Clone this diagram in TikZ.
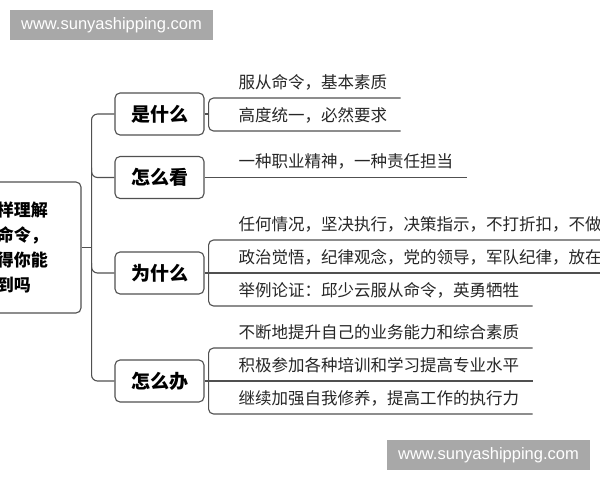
\documentclass[tikz,border=0pt]{standalone}
\usepackage{fontspec}
\usetikzlibrary{calc, positioning}
\newfontfamily\cjk{Noto Sans CJK SC}
\newfontfamily\markfont{Liberation Sans}
\definecolor{linegray}{RGB}{80,80,80}
\definecolor{markgray}{RGB}{168,168,168}
\def\leafx{225}
\def\branchx{159.5}

\begin{document}
\begin{tikzpicture}[x=1pt, y=-1pt, line width=1.1pt]
    \tikzstyle{link}=[draw=linegray, line width=1.1pt]
    \tikzstyle{mainbox}=[draw=linegray, fill=white, rounded corners=5pt, inner sep=0pt]
    \tikzstyle{topic}=[mainbox, minimum width=151pt, minimum height=131pt, align=center, font=\cjk\bfseries\fontsize{17}{25}\selectfont];
    \tikzstyle{branchbox}=[mainbox, minimum width=89pt, minimum height=42pt, font=\cjk\bfseries\fontsize{19}{22}\selectfont];
    \tikzstyle{leaftext}=[anchor=south west, inner xsep=13pt, inner ysep=6.2pt, text height=14pt, text depth=3pt, text=black!85, font=\cjk\fontsize{16.5}{20}\selectfont];
    \tikzstyle{watermark}=[fill=markgray, text=white, minimum width=203pt, minimum height=30pt, inner sep=0pt, font=\markfont\fontsize{16.5}{18}\selectfont]

    \clip (0,0) rectangle (600,480);
    \fill[white] (0,0) rectangle (600,480);

    % Draw the main topic, cut by the left edge
    \node[topic] (topic) at (5.5,247.5) {你怎样理解\\服从命令，\\你觉得你能\\做到吗};

    % Draw the branch boxes
    \foreach \name / \y / \txt in {B-1/114/是什么, B-2/177.5/怎么看, B-3/273/为什么, B-4/381/怎么办}
        \node[branchbox] (\name) at (\branchx,\y) {\txt};

    % Draw the leaves, each one sits on its own underline
    \foreach \name / \y / \txt in {L-1/98/服从命令，基本素质, L-2/131/高度统一，必然要求,
                                   W-1/177.5/一种职业精神，一种责任担当,
                                   R-1/240/任何情况，坚决执行，决策指示，不打折扣，不做,
                                   R-2/273/政治觉悟，纪律观念，党的领导，军队纪律，放在,
                                   R-3/306/举例论证：邱少云服从命令，英勇牺牲,
                                   D-1/348/不断地提升自己的业务能力和综合素质,
                                   D-2/381/积极参加各种培训和学习提高专业水平,
                                   D-3/414/继续加强自我修养，提高工作的执行力}
        \node[leaftext] (\name) at (\leafx,\y) {\txt};

    % Trunk from the topic to the branches
    \coordinate (T) at ($(topic.east)+(10,0)$);
    \draw[link] (topic.east) -- (T);
    \draw[link, rounded corners=6pt] (B-1.west) -| (T) |- (B-4.west);
    \foreach \b in {B-2, B-3}
        \draw[link, rounded corners=6pt] ($(T |- \b.west)+(0,-10)$) |- (\b.west);

    % Brackets and underlines of the leaves
    \coordinate (K-1) at ($(B-1.east)+(4,0)$);
    \coordinate (K-3) at ($(B-3.east)+(4,0)$);
    \coordinate (K-4) at ($(B-4.east)+(4,0)$);
    \draw[link] (B-1.east) -- (K-1);
    \draw[link, rounded corners=5pt] (L-1.south east) -| (K-1) |- (L-2.south east);
    \draw[link] (B-2.east) -- (W-1.south east);
    \draw[link] (B-3.east) -- (R-2.south east);
    \draw[link, rounded corners=5pt] (R-1.south east) -| (K-3) |- (R-3.south east);
    \draw[link] (B-4.east) -- (D-2.south east);
    \draw[link, rounded corners=5pt] (D-1.south east) -| (K-4) |- (D-3.south east);

    % Watermarks
    \node[watermark] (wm-top) at (111.5,25) {www.sunyashipping.com};
    \node[watermark] (wm-bottom) at (488.5,455) {www.sunyashipping.com};
\end{tikzpicture}
\end{document}
